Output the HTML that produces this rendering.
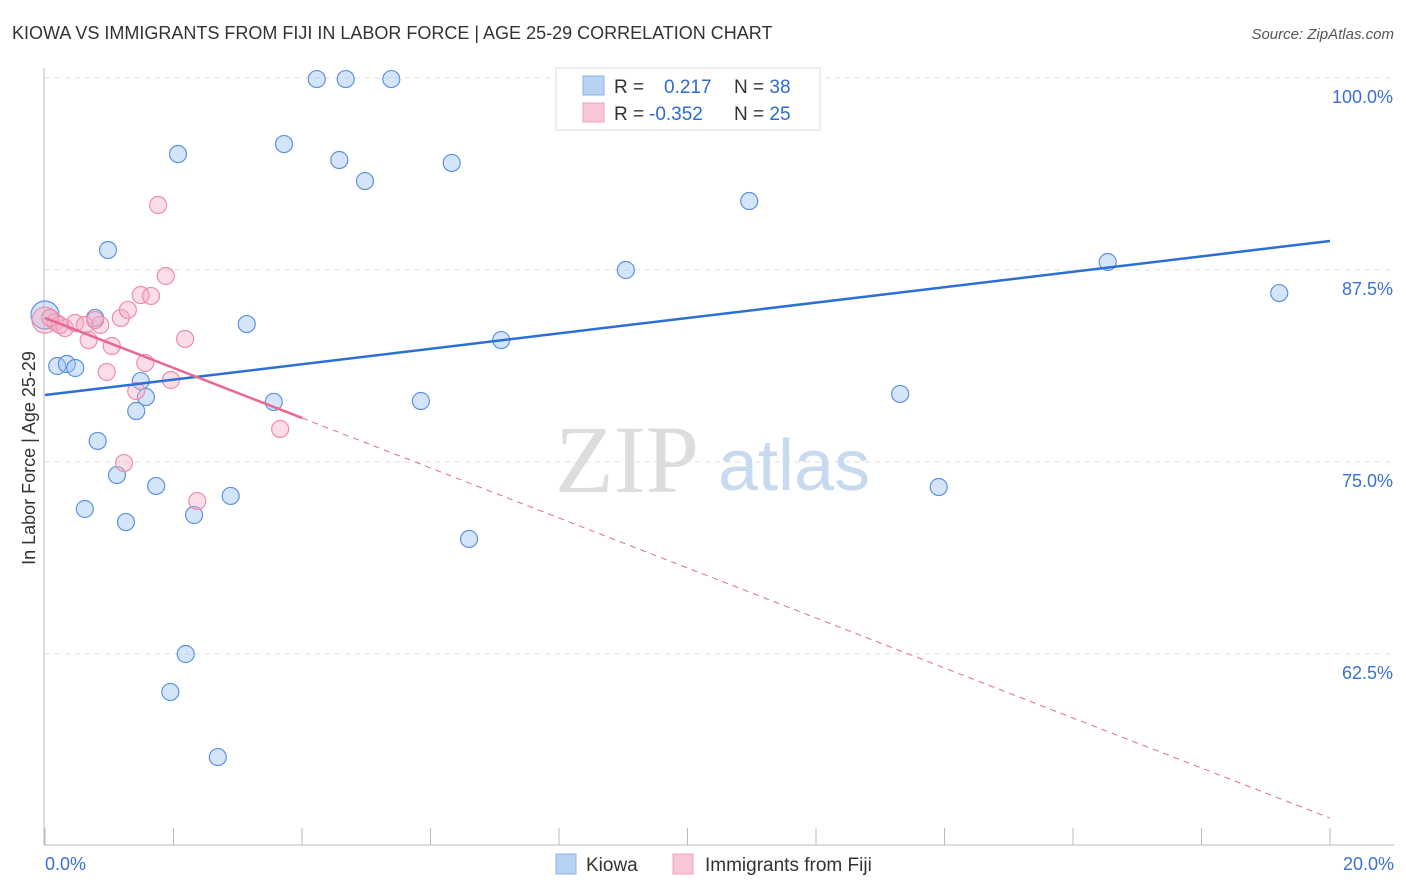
<!DOCTYPE html>
<html><head><meta charset="utf-8"><style>
body{margin:0;background:#fff;font-family:"Liberation Sans",sans-serif;}
svg{display:block}
</style></head><body>
<svg id="chart" width="1406" height="892" font-family="Liberation Sans, sans-serif">
<text x="12" y="39" font-size="18" fill="#333">KIOWA VS IMMIGRANTS FROM FIJI IN LABOR FORCE | AGE 25-29 CORRELATION CHART</text>
<text x="1394" y="39" font-size="15" fill="#555" font-style="italic" text-anchor="end">Source: ZipAtlas.com</text>
<text x="35" y="458" font-size="18" fill="#333" text-anchor="middle" transform="rotate(-90 35 458)">In Labor Force | Age 25-29</text>
<g id="grid"></g>
<text x="555" y="492" font-size="96" fill="#ddd" font-family="Liberation Serif, serif">ZIP</text>
<text x="718" y="490" font-size="72" fill="#c8daf0">atlas</text>
<g id="marks"></g>
<g>
<rect x="556" y="68" width="264" height="62" fill="#fff" stroke="#ddd"/>
<rect x="583" y="76" width="21" height="19" fill="#b8d2f4" stroke="#8ab2e6"/>
<rect x="583" y="103" width="21" height="19" fill="#f9c6d6" stroke="#eea2ba"/>
<text x="614" y="93" font-size="19" fill="#333">R = <tspan fill="#2f6ad0" x="664">0.217</tspan><tspan fill="#333" x="734">N = </tspan><tspan fill="#2f6ad0">38</tspan></text>
<text x="614" y="120" font-size="19" fill="#333">R = <tspan fill="#2f6ad0" x="649">-0.352</tspan><tspan fill="#333" x="734">N = </tspan><tspan fill="#2f6ad0">25</tspan></text>
</g>
<g>
<rect x="556" y="854" width="20" height="20" fill="#b8d2f4" stroke="#8ab2e6"/>
<text x="586" y="871" font-size="19" fill="#333">Kiowa</text>
<rect x="673" y="854" width="20" height="20" fill="#f9c6d6" stroke="#eea2ba"/>
<text x="705" y="871" font-size="19" fill="#333">Immigrants from Fiji</text>
</g>
</svg>
<script>
const xTicks=[0,20];
const yTicks=[100,87.5,75,62.5];
const kiowaX=[4.23,4.68,5.39,2.07,3.72,4.58,6.33,4.98,10.96,0.98,9.04,16.54,19.21,0.78,3.14,0.0,7.10,0.19,0.34,0.47,1.49,1.57,1.42,3.56,5.85,13.31,0.82,1.12,1.73,2.89,0.62,1.26,2.32,6.60,13.91,2.19,1.95,2.69];
const kiowaY=[99.93,99.93,99.93,95.05,95.70,94.66,94.47,93.29,91.99,88.80,87.50,88.02,86.00,84.38,83.98,84.57,82.94,81.25,81.38,81.12,80.27,79.23,78.32,78.91,78.97,79.43,76.37,74.15,73.44,72.79,71.94,71.09,71.55,69.99,73.37,62.50,60.03,55.79];
const fijiX=[0.0,0.16,0.31,0.47,0.62,0.86,0.78,0.68,1.04,1.18,1.29,1.49,1.65,1.88,1.76,2.18,1.56,0.96,1.96,1.42,1.23,2.37,3.66,0.23,0.08];
const fijiY=[84.24,84.11,83.72,84.05,83.92,83.92,84.24,82.94,82.55,84.38,84.90,85.87,85.81,87.11,91.73,83.01,81.45,80.86,80.34,79.62,74.93,72.46,77.15,83.92,84.38];
const kiowaTrend=[79.36,89.39];
const fijiTrend=[84.38,51.82];
const fijiSolidEnd=4;
const X=v=>45+v*64.25, Y=v=>78+(100-v)*15.36;
const NS="http://www.w3.org/2000/svg";
function mk(t,a,p){const e=document.createElementNS(NS,t);for(const k in a)e.setAttribute(k,a[k]);p.appendChild(e);return e;}
const grid=document.getElementById('grid'), marks=document.getElementById('marks');
yTicks.forEach(v=>{
 const l=mk('line',{x1:45,x2:1394,y1:Y(v),y2:Y(v),stroke:'#ddd','stroke-dasharray':'5,5'},grid);
 
 
 const t=mk('text',{x:1393,y:Y(v)+25,'font-size':18,fill:'#3a70d4','text-anchor':'end'},grid);
 t.textContent=v.toFixed(1)+'%';
 
 
});
const ax=mk('line',{x1:44,x2:44,y1:68,y2:845,stroke:'#bbb'},grid);


const bx=mk('line',{x1:44,x2:1394,y1:845,y2:845,stroke:'#bbb'},grid);


for(let i=0;i<=10;i++){const tk=mk('line',{x1:X(i*2),x2:X(i*2),y1:828,y2:845,stroke:'#bbb'},grid);
 
 }
xTicks.forEach((v,i)=>{const t=mk('text',{x:i?1394:45,y:870,'font-size':18,fill:'#3a70d4','text-anchor':i?'end':'start'},grid);
 t.textContent=v.toFixed(1)+'%';
 
 });
kiowaX.forEach((x,i)=>{const c=mk('circle',{cx:X(x),cy:Y(kiowaY[i]),r:(i==15?14:8.5),fill:'rgba(150,190,240,0.4)',stroke:'#5c93de','stroke-width':1.2},marks);
 
 });
fijiX.forEach((x,i)=>{const c=mk('circle',{cx:X(x),cy:Y(fijiY[i]),r:(i==0?13:8.5),fill:'rgba(245,170,195,0.4)',stroke:'#ec8eac','stroke-width':1.2},marks);
 
 });
const kl=mk('line',{x1:X(0),y1:Y(kiowaTrend[0]),x2:X(20),y2:Y(kiowaTrend[1]),stroke:'#2a6fd6','stroke-width':2.5},marks);


const fy=v=>fijiTrend[0]+(fijiTrend[1]-fijiTrend[0])*v/20;
const fl=mk('line',{x1:X(0),y1:Y(fy(0)),x2:X(fijiSolidEnd),y2:Y(fy(fijiSolidEnd)),stroke:'#e8688f','stroke-width':2.5},marks);


const fd=mk('line',{x1:X(fijiSolidEnd),y1:Y(fy(fijiSolidEnd)),x2:X(20),y2:Y(fy(20)),stroke:'#e8688f','stroke-width':1,'stroke-dasharray':'6,5'},marks);


</script>
</body></html>
